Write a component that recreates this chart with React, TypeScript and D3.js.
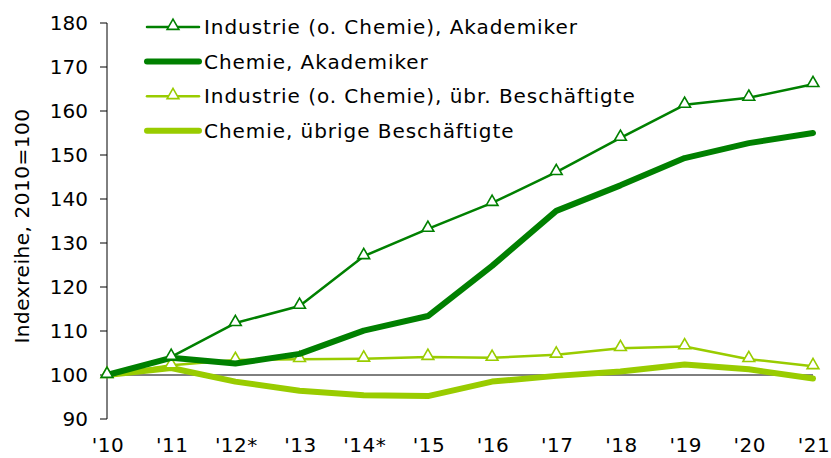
import React from "react";
import * as d3 from "d3";

const years = ["'10", "'11", "'12*", "'13", "'14*", "'15", "'16", "'17", "'18", "'19", "'20", "'21"];
const industrieAkad = [100, 104.1, 111.8, 115.7, 127, 133.2, 139.1, 146.1, 153.9, 161.4, 163, 166.1];
const chemieAkad = [100, 103.9, 102.6, 104.8, 110.1, 113.4, 124.8, 137.3, 143.1, 149.3, 152.7, 155];
const industrieUebr = [100, 102.2, 103.4, 103.6, 103.7, 104.1, 103.9, 104.6, 106.1, 106.5, 103.6, 102];
const chemieUebr = [100, 101.6, 98.5, 96.4, 95.4, 95.2, 98.5, 99.8, 100.8, 102.4, 101.3, 99.2];
const yTicks = [90, 100, 110, 120, 130, 140, 150, 160, 170, 180];

const DARK = "#008000";
const LIGHT = "#99CC00";

const seriesList = [
  { name: "Industrie (o. Chemie), Akademiker", values: industrieAkad, color: DARK, width: 2.5, marker: true },
  { name: "Chemie, Akademiker", values: chemieAkad, color: DARK, width: 6, marker: false },
  { name: "Industrie (o. Chemie), übr. Beschäftigte", values: industrieUebr, color: LIGHT, width: 2.5, marker: true },
  { name: "Chemie, übrige Beschäftigte", values: chemieUebr, color: LIGHT, width: 6, marker: false },
];

const drawOrder = [3, 2, 1, 0];

export default function App() {
  const W = 831, H = 458;
  const x0 = 107, x1 = 813;
  const x = d3.scalePoint<string>().domain(years).range([x0, x1]);
  const y = d3.scaleLinear().domain([90, 180]).range([419, 23]);
  const font = "'DejaVu Sans', Verdana, sans-serif";
  const tri = d3.symbol().type(d3.symbolTriangle).size(60);

  const line = d3
    .line<number>()
    .x((_, i) => x(years[i]) as number)
    .y((d) => y(d));

  return (
    <svg width={W} height={H} style={{ position: "absolute", left: 0, top: 0, background: "#fff" }} fontFamily={font}>
      {/* y axis */}
      <line x1={x0} x2={x0} y1={y(180)} y2={y(90)} stroke="#000" strokeWidth={1} />
      {yTicks.map((t) => (
        <g key={t}>
          <line x1={x0 - 7} x2={x0} y1={y(t)} y2={y(t)} stroke="#000" strokeWidth={1} />
          <text x={88} y={y(t)} dy="0.36em" textAnchor="end" fontSize={20} fill="#000">
            {t}
          </text>
        </g>
      ))}
      {/* baseline at 100 */}
      <line x1={x0} x2={x1} y1={y(100)} y2={y(100)} stroke="#000" strokeWidth={1} />
      {years.map((yr) => (
        <text key={yr} x={(x(yr) as number) + 1} y={452} textAnchor="middle" fontSize={20} letterSpacing={0.5} fill="#000">
          {yr}
        </text>
      ))}
      <text
        transform={`translate(29, ${(y(180) + y(90)) / 2 + 5}) rotate(-90)`}
        textAnchor="middle"
        fontSize={20}
        letterSpacing={0.55}
        fill="#000"
      >
        Indexreihe, 2010=100
      </text>
      {/* series */}
      {drawOrder.map((si) => {
        const s = seriesList[si];
        return (
          <g key={s.name}>
            <path d={line(s.values) || ""} fill="none" stroke={s.color} strokeWidth={s.width} strokeLinejoin="round" strokeLinecap="round" />
            {s.marker &&
              s.values.map((v, i) => (
                <path
                  key={i}
                  d={tri() || ""}
                  transform={`translate(${x(years[i])},${y(v) - 1})`}
                  fill="#fff"
                  stroke={s.color}
                  strokeWidth={1.6}
                />
              ))}
          </g>
        );
      })}
      {/* legend */}
      {seriesList.map((s, i) => {
        const ly = 27 + i * 34.6;
        return (
          <g key={s.name}>
            <line x1={147} x2={199} y1={ly} y2={ly} stroke={s.color} strokeWidth={s.width} strokeLinecap="round" />
            {s.marker && <path d={tri() || ""} transform={`translate(173,${ly - 1})`} fill="#fff" stroke={s.color} strokeWidth={1.6} />}
            <text x={204} y={ly} dy="0.36em" fontSize={20} letterSpacing={0.95} fill="#000">
              {s.name}
            </text>
          </g>
        );
      })}
    </svg>
  );
}
